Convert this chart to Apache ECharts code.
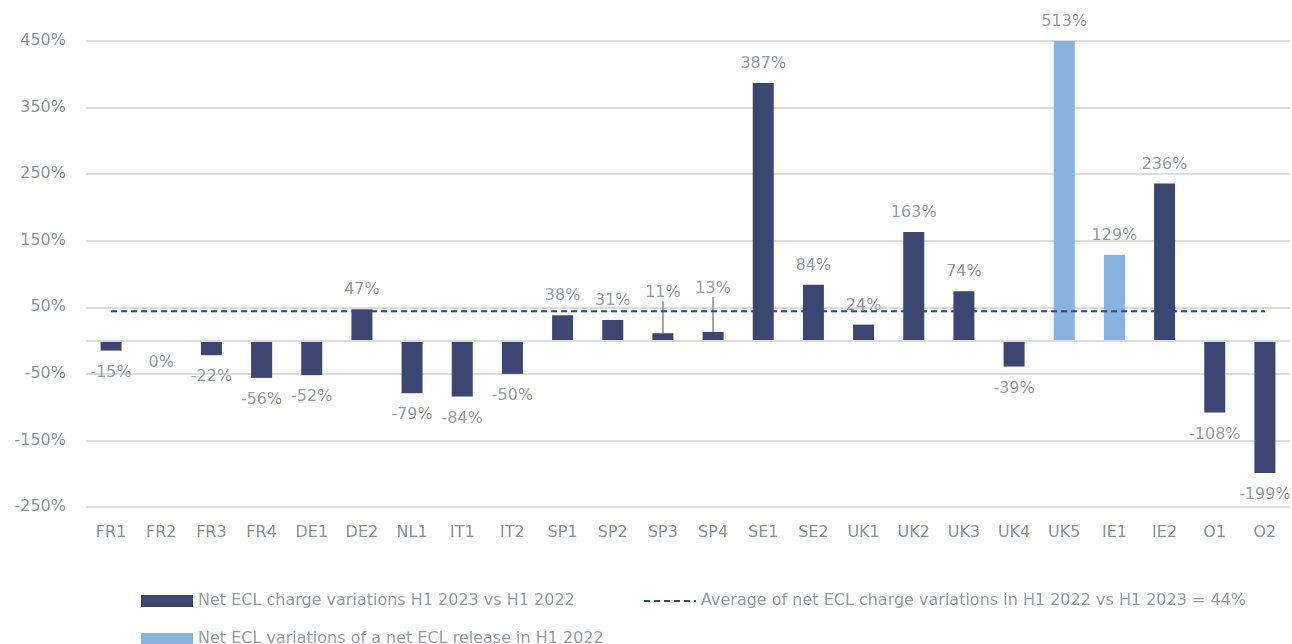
<!DOCTYPE html>
<html>
<head>
<meta charset="utf-8">
<title>Net ECL charge variations</title>
<script src="https://cdn.jsdelivr.net/npm/echarts@6/dist/echarts.min.js"></script>
<style>
  html, body { margin: 0; padding: 0; background: #fff; }
  #chart { width: 1292px; height: 644px; }
</style>
</head>
<body>
<div id="chart"></div>
<script>
// entities on the x axis
const categories = ['FR1', 'FR2', 'FR3', 'FR4', 'DE1', 'DE2', 'NL1', 'IT1', 'IT2',
  'SP1', 'SP2', 'SP3', 'SP4', 'SE1', 'SE2', 'UK1', 'UK2', 'UK3', 'UK4', 'UK5',
  'IE1', 'IE2', 'O1', 'O2'];
// net ECL charge variation of each entity, in %
const variations = [-15, 0, -22, -56, -52, 47, -79, -84, -50,
  38, 31, 11, 13, 387, 84, 24, 163, 74, -39, 513,
  129, 236, -108, -199];
// entities that had a net ECL release in H1 2022 (light bars)
const releaseEntities = ['UK5', 'IE1'];
// labels lifted above the average line, with a leader line
const liftedLabels = { SP3: -21, SP4: -24 };
// average variation (dashed line)
const averageValue = 44;
// y axis ticks
const yMin = -250;
const yMax = 450;
const yStep = 100;

const darkName = 'Net ECL charge variations H1 2023 vs H1 2022';
const avgName = 'Average of net ECL charge variations in H1 2022 vs H1 2023 = 44%';
const lightName = 'Net ECL variations of a net ECL release in H1 2022';

const navy = '#3d4571';
const lightBlue = '#86b4de';
const textGrey = '#9a9ca4';
const font = 'DejaVu Sans';

// one bar item, cut at the top of the axis but labelled with its real value
function barItem(c, v) {
  const item = {
    value: Math.min(v, yMax),
    realValue: v,
    label: v <= 0 ? { position: 'bottom', distance: 14 } : { position: 'top', distance: 11 },
    labelLine: { show: false }
  };
  if (liftedLabels[c] !== undefined) item.labelLine = { show: true };
  return item;
}

const darkData = categories.map((c, i) => releaseEntities.includes(c) ? null : barItem(c, variations[i]));
const lightData = categories.map((c, i) => releaseEntities.includes(c) ? barItem(c, variations[i]) : null);

const barLabel = {
  show: true,
  color: textGrey,
  fontFamily: font,
  fontSize: 16,
  formatter: p => Math.round(p.data.realValue) + '%'
};

const legendText = { color: textGrey, fontFamily: font, fontSize: 16 };

const chart = echarts.init(document.getElementById('chart'));
chart.setOption({
  animation: false,
  grid: { left: 86, right: 2, top: 41, bottom: 137 },
  legend: [
    {
      data: [{ name: darkName, icon: 'rect' }], left: 141, top: 593, padding: 0,
      itemWidth: 52, itemHeight: 12, itemGap: 6, textStyle: legendText
    },
    {
      data: [avgName], left: 643, top: 593, padding: 0,
      itemWidth: 52, itemHeight: 12, itemStyle: { opacity: 0 }, textStyle: legendText
    },
    {
      data: [{ name: lightName, icon: 'rect' }], left: 141, top: 631, padding: 0,
      itemWidth: 52, itemHeight: 12, textStyle: legendText
    }
  ],
  xAxis: {
    type: 'category',
    data: categories,
    axisLine: { show: false, onZero: false },
    axisTick: { show: false },
    axisLabel: { color: '#8e919a', fontFamily: font, fontSize: 16, margin: 18 }
  },
  yAxis: {
    type: 'value',
    min: yMin,
    max: yMax,
    interval: yStep,
    axisLabel: { formatter: '{value}%', color: '#8e919a', fontFamily: font, fontSize: 16, margin: 20 },
    splitLine: { lineStyle: { color: '#dcdcdc', width: 2 } },
    axisLine: { show: false },
    axisTick: { show: false }
  },
  series: [
    {
      name: darkName,
      type: 'bar',
      data: darkData,
      barWidth: 21,
      barGap: '-100%',
      itemStyle: { color: navy },
      label: barLabel,
      labelLine: { lineStyle: { color: '#a3a3a3', width: 2 } },
      labelLayout: p => {
        const dy = liftedLabels[categories[p.dataIndex]];
        return dy !== undefined ? { dy: dy } : {};
      },
      markLine: {
        silent: true,
        symbol: 'none',
        label: { show: false },
        lineStyle: { color: '#dcdcdc', type: 'solid', width: 2 },
        data: [{ yAxis: 0 }]
      }
    },
    {
      name: lightName,
      type: 'bar',
      data: lightData,
      barWidth: 21,
      barGap: '-100%',
      itemStyle: { color: lightBlue },
      label: barLabel
    },
    {
      name: avgName,
      type: 'line',
      data: categories.map(() => averageValue),
      symbol: 'none',
      z: 5,
      itemStyle: { color: navy },
      lineStyle: { color: navy, type: [6, 4], width: 2 }
    }
  ]
});
</script>
</body>
</html>
